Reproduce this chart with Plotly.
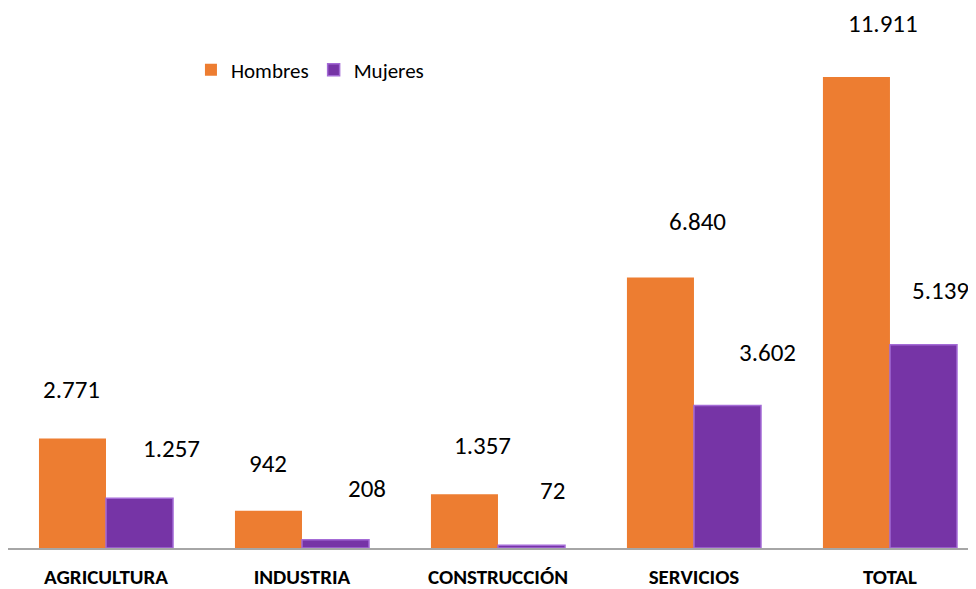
import plotly.graph_objects as go

categories = ["AGRICULTURA", "INDUSTRIA", "CONSTRUCCIÓN", "SERVICIOS", "TOTAL"]
hombres = [2771, 942, 1357, 6840, 11911]
mujeres = [1257, 208, 72, 3602, 5139]
hombres_labels = ["2.771", "942", "1.357", "6.840", "11.911"]
mujeres_labels = ["1.257", "208", "72", "3.602", "5.139"]

# label placement offsets (pixels) relative to bar top centre
h_dx = [-1, 0, 18, 37, 27]
h_dy = [49, 47, 49, 56, 53]
m_dx = [32, 32, 21, 40, 17]
m_dy = [50, 51, 55, 53, 54]

ORANGE = "#ED7D31"
PURPLE = "#7634A6"
FONT = "Calibri, Carlito, Lato, Open Sans, sans-serif"

fig = go.Figure()
fig.add_trace(go.Bar(name="Hombres", x=categories, y=hombres,
                     marker=dict(color=ORANGE, line=dict(width=0))))
fig.add_trace(go.Bar(name="Mujeres", x=categories, y=mujeres,
                     marker=dict(color=PURPLE, line=dict(color="#A46BD6", width=1.5))))

bar_off = 33.5
for i, c in enumerate(categories):
    fig.add_annotation(x=c, y=hombres[i], text=hombres_labels[i], showarrow=False,
                       xshift=-bar_off + h_dx[i], yshift=h_dy[i], borderpad=0,
                       font=dict(family=FONT, size=25, color="#000000"))
    fig.add_annotation(x=c, y=mujeres[i], text=mujeres_labels[i], showarrow=False,
                       xshift=bar_off + m_dx[i], yshift=m_dy[i], borderpad=0,
                       font=dict(family=FONT, size=25, color="#000000"))

fig.update_layout(
    width=968, height=581,
    margin=dict(l=0, r=0, t=12, b=41),
    paper_bgcolor="white", plot_bgcolor="white",
    barmode="group", bargap=0.316, bargroupgap=0,
    showlegend=True,
    legend=dict(orientation="h", x=0.189, y=0.905, xanchor="left", yanchor="middle",
                font=dict(family=FONT, size=21, color="#000000"),
                bgcolor="rgba(0,0,0,0)", traceorder="normal", itemwidth=30),
    xaxis=dict(range=[-0.5, 4.439], showgrid=False, showline=True, linecolor="#A6A6A6",
               linewidth=1.5, ticks="", ticklabelstandoff=9,
               tickfont=dict(family=FONT, size=21, color="#000000", weight="bold")),
    yaxis=dict(range=[0, 13350], showgrid=False, showticklabels=False, zeroline=False,
               showline=False),
)

fig.write_html("out.html")
